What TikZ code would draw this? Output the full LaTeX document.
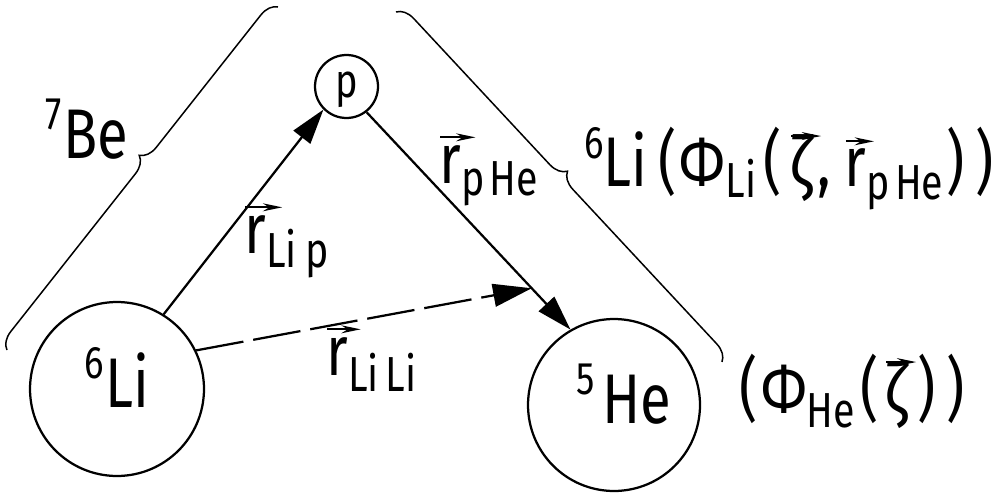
\documentclass[tikz,border=0pt]{standalone}
\usepackage{fontspec}
\setmainfont[FakeStretch=0.8]{Fira Sans}
\usetikzlibrary{arrows.meta,decorations.pathreplacing,calc}
\newcommand{\up}[1]{\raisebox{16.5pt}{\fontsize{26}{26}\selectfont #1}}
\newcommand{\dn}[2]{\raisebox{-#1}{\fontsize{28}{28}\selectfont #2}}
\newcommand{\vecd}[3]{\rlap{\raisebox{#1}{\tikz[baseline=0pt]\draw[black,line width=1.1pt,-{Stealth[length=11pt,width=4.5pt]}](0pt,0pt)--(#2,0pt);}}#3}
\begin{document}
\begin{tikzpicture}[x=0.02cm,y=-0.02cm,
  ball/.style={circle,draw,line width=0.045cm,inner sep=0pt},
  lab/.style={inner sep=0pt,anchor=base west,font=\fontsize{40}{44}\selectfont},
  arr/.style={line width=0.045cm,-{Triangle[length=20pt,width=12pt]}},
  darr/.style={line width=0.045cm,dash pattern=on 0.96cm off 0.2cm,-{Triangle[length=22pt,width=13pt]}},
  brc/.style={line width=0.03cm,decorate}]
\useasboundingbox (0,0) rectangle (1006,493);

% particles
\node[ball,minimum size=3.48cm,font=\fontsize{40}{44}\selectfont,text height=0.72cm,text depth=0cm] (li) at (117,389) {\up{6}\hspace{1pt}Li};
\node[ball,minimum size=3.44cm,font=\fontsize{40}{44}\selectfont,text height=0.72cm,text depth=0cm] (he) at (614,405) {\hspace*{0.4cm}\up{5}\hspace{4pt}He};
\node[ball,minimum size=1.26cm,font=\fontsize{27}{27}\selectfont,text height=0.66cm,text depth=0.2cm] (p) at (346.5,86.5) {p};

% vectors
\draw[arr] (li.58) -- (p.225);
\draw[arr] (p.-52) -- (he.120);
\coordinate (m) at ($(p.-52)!0.81!(he.120)$);
\draw[darr] (li.26) -- (m);

% braces
\coordinate (b1a) at (7,350);
\coordinate (b1b) at (278,7);
\draw[brc,decoration={brace,amplitude=0.34cm,aspect=0.537}] (b1a) -- (b1b);
\coordinate (b2a) at (396,12);
\coordinate (b2b) at (722,362);
\draw[brc,decoration={brace,amplitude=0.34cm,aspect=0.488}] (b2a) -- (b2b);

% labels
\node[lab] (t7be) at (45,158) {\up{7}\hspace{1pt}Be};
\node[lab] (tlip) at (244,253) {\vecd{26pt}{21pt}{r}\dn{8.5pt}{Li\hspace{5pt}p}};
\node[lab] (tphe) at (439,183) {\vecd{26pt}{20pt}{r}\dn{7pt}{p\hspace{3pt}He}};
\node[lab] (tlili) at (326,375) {\vecd{26pt}{19pt}{r}\dn{9.5pt}{Li\hspace{4pt}Li}};
\node[lab] (tli6) at (584,187) {\up{6}Li\hspace{6pt}(\hspace{2pt}Φ\dn{6pt}{Li}\hspace{4pt}(\hspace{5pt}\vecd{29pt}{17pt}{ζ}\hspace{3pt},\hspace{8pt}\vecd{26pt}{16pt}{r}\dn{7pt}{p\hspace{3pt}He}\hspace{2pt})\hspace{6pt})};
\node[lab] (thephi) at (739,413) {(\hspace{2pt}Φ\dn{8pt}{He}\hspace{3pt}(\hspace{4pt}\vecd{29pt}{17pt}{ζ}\hspace{6pt})\hspace{6pt})};
\end{tikzpicture}
\end{document}
